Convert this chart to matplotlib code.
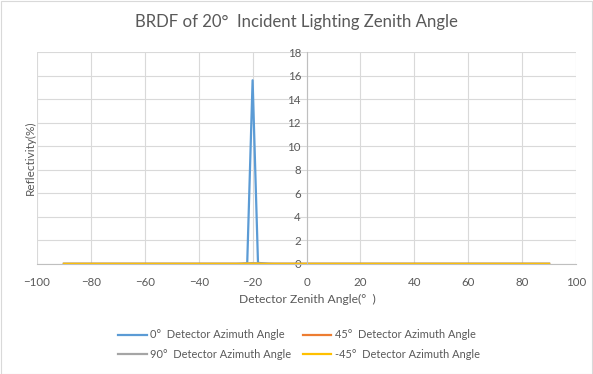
import matplotlib
matplotlib.use("Agg")
import matplotlib.pyplot as plt
from matplotlib.lines import Line2D

plt.rcParams['font.family'] = ['Lato', 'DejaVu Sans']

angles = [-90, -88, -86, -84, -82, -80, -78, -76, -74, -72, -70, -68, -66, -64, -62, -60,
          -58, -56, -54, -52, -50, -48, -46, -44, -42, -40, -38, -36, -34, -32, -30, -28,
          -26, -24, -22, -20, -18, -16, -14, -12, -10, -8, -6, -4, -2, 0, 2, 4, 6, 8, 10,
          12, 14, 16, 18, 20, 22, 24, 26, 28, 30, 32, 34, 36, 38, 40, 42, 44, 46, 48, 50,
          52, 54, 56, 58, 60, 62, 64, 66, 68, 70, 72, 74, 76, 78, 80, 82, 84, 86, 88, 90]

az0 = [0.01, 0.01, 0.01, 0.01, 0.01, 0.01, 0.01, 0.01, 0.01, 0.01, 0.01, 0.01, 0.01, 0.01, 0.01, 0.01,
       0.01, 0.01, 0.01, 0.01, 0.01, 0.01, 0.01, 0.01, 0.01, 0.01, 0.01, 0.01, 0.01, 0.01, 0.01, 0.01,
       0.01, 0.02, 0.05, 15.6, 0.10, 0.05, 0.02, 0.01, 0.01, 0.01, 0.01, 0.01, 0.01, 0.01, 0.01, 0.01,
       0.01, 0.01, 0.01, 0.01, 0.01, 0.01, 0.01, 0.01, 0.01, 0.01, 0.01, 0.01, 0.01, 0.01, 0.01, 0.01,
       0.01, 0.01, 0.01, 0.01, 0.01, 0.01, 0.01, 0.01, 0.01, 0.01, 0.01, 0.01, 0.01, 0.01, 0.01, 0.01,
       0.01, 0.01, 0.01, 0.01, 0.01, 0.01, 0.01, 0.01, 0.01, 0.01, 0.01]
az45 = [0.01, 0.01, 0.01, 0.01, 0.01, 0.01, 0.01, 0.01, 0.01, 0.01, 0.01, 0.01, 0.01, 0.01, 0.01, 0.01,
        0.01, 0.01, 0.01, 0.01, 0.01, 0.01, 0.01, 0.01, 0.01, 0.01, 0.01, 0.01, 0.01, 0.01, 0.01, 0.01,
        0.01, 0.01, 0.02, 0.02, 0.02, 0.01, 0.01, 0.01, 0.01, 0.01, 0.01, 0.01, 0.01, 0.01, 0.01, 0.01,
        0.01, 0.01, 0.01, 0.01, 0.01, 0.01, 0.01, 0.01, 0.01, 0.01, 0.01, 0.01, 0.01, 0.01, 0.01, 0.01,
        0.01, 0.01, 0.01, 0.01, 0.01, 0.01, 0.01, 0.01, 0.01, 0.01, 0.01, 0.01, 0.01, 0.01, 0.01, 0.01,
        0.01, 0.01, 0.01, 0.01, 0.01, 0.01, 0.01, 0.01, 0.01, 0.01, 0.01]
az90 = [0.01, 0.01, 0.01, 0.01, 0.01, 0.01, 0.01, 0.01, 0.01, 0.01, 0.01, 0.01, 0.01, 0.01, 0.01, 0.01,
        0.01, 0.01, 0.01, 0.01, 0.01, 0.01, 0.01, 0.01, 0.01, 0.01, 0.01, 0.01, 0.01, 0.01, 0.01, 0.01,
        0.01, 0.02, 0.05, 0.08, 0.05, 0.02, 0.01, 0.01, 0.01, 0.01, 0.01, 0.01, 0.01, 0.01, 0.01, 0.01,
        0.01, 0.01, 0.01, 0.01, 0.01, 0.01, 0.01, 0.01, 0.01, 0.01, 0.01, 0.01, 0.01, 0.01, 0.01, 0.01,
        0.01, 0.01, 0.01, 0.01, 0.01, 0.01, 0.01, 0.01, 0.01, 0.01, 0.01, 0.01, 0.01, 0.01, 0.01, 0.01,
        0.01, 0.01, 0.01, 0.01, 0.01, 0.01, 0.01, 0.01, 0.01, 0.01, 0.01]
azm45 = [0.01, 0.01, 0.01, 0.01, 0.01, 0.01, 0.01, 0.01, 0.01, 0.01, 0.01, 0.01, 0.01, 0.01, 0.01, 0.01,
         0.01, 0.01, 0.01, 0.01, 0.01, 0.01, 0.01, 0.01, 0.01, 0.01, 0.01, 0.01, 0.01, 0.01, 0.01, 0.01,
         0.01, 0.01, 0.02, 0.02, 0.02, 0.01, 0.01, 0.01, 0.01, 0.01, 0.01, 0.01, 0.01, 0.01, 0.01, 0.01,
         0.01, 0.01, 0.01, 0.01, 0.01, 0.01, 0.01, 0.01, 0.01, 0.01, 0.01, 0.01, 0.01, 0.01, 0.01, 0.01,
         0.01, 0.01, 0.01, 0.01, 0.01, 0.01, 0.01, 0.01, 0.01, 0.01, 0.01, 0.01, 0.01, 0.01, 0.01, 0.01,
         0.01, 0.01, 0.01, 0.01, 0.01, 0.01, 0.01, 0.01, 0.01, 0.01, 0.01]

series_labels = ["0°  Detector Azimuth Angle", "45°  Detector Azimuth Angle",
                 "90°  Detector Azimuth Angle", "-45°  Detector Azimuth Angle"]
colors = ["#5B9BD5", "#ED7D31", "#A5A5A5", "#FFC000"]
xticks = [-100, -80, -60, -40, -20, 0, 20, 40, 60, 80, 100]
yticks = [0, 2, 4, 6, 8, 10, 12, 14, 16, 18]

txt = "#595959"
fig = plt.figure(figsize=(5.93, 3.74), dpi=100)
fig.patch.set_facecolor("white")
# chart border
fig.add_artist(plt.Rectangle((0.5 / 593, 0.5 / 374), 1 - 1.5 / 593, 1 - 1.5 / 374,
                             transform=fig.transFigure, fill=False, edgecolor="#D9D9D9", lw=0.8))

ax = fig.add_axes([37 / 593, 1 - 264 / 374, (576 - 37) / 593, (264 - 52) / 374])
ax.set_xlim(-100, 100)
ax.set_ylim(0, 18)
ax.set_xticks(xticks)
ax.set_yticks(yticks)
ax.grid(True, color="#D9D9D9", lw=0.8)
ax.set_axisbelow(True)
for s in ["top", "right"]:
    ax.spines[s].set_visible(False)
ax.spines["left"].set_position(("data", 0))
ax.spines["left"].set_color("#BFBFBF")
ax.spines["left"].set_linewidth(0.8)
ax.spines["bottom"].set_color("#BFBFBF")
ax.spines["bottom"].set_linewidth(0.8)
ax.tick_params(length=0, labelsize=8.3, colors=txt, pad=4)
ax.tick_params(axis="x", pad=9)

for vals, c, lab in zip([az0, az45, az90, azm45], colors, series_labels):
    ax.plot(angles, vals, color=c, lw=1.6, label=lab, solid_joinstyle="round", clip_on=False)

fig.text(0.5, 1 - 22 / 374, "BRDF of 20°  Incident Lighting Zenith Angle", ha="center",
         va="center", fontsize=12.1, color=txt)
fig.text(30 / 593, 1 - 158 / 374, "Reflectivity(%)", rotation=90, ha="center", va="center",
         fontsize=8.5, color=txt)
fig.text(307 / 593, 1 - 299 / 374, "Detector Zenith Angle(°  )", ha="center", va="center",
         fontsize=8.7, color=txt)

handles = [Line2D([0], [0], color=c, lw=1.6) for c in colors]
order = [0, 2, 1, 3]
fig.legend([handles[i] for i in order], [series_labels[i] for i in order], ncol=2,
           loc="center", bbox_to_anchor=(299 / 593, 1 - 344.5 / 374), frameon=False,
           fontsize=7.9, labelcolor=txt, handlelength=2.6, columnspacing=1.0,
           handletextpad=0.35, labelspacing=0.75, borderpad=0)

fig.savefig("out.png", dpi=100)
